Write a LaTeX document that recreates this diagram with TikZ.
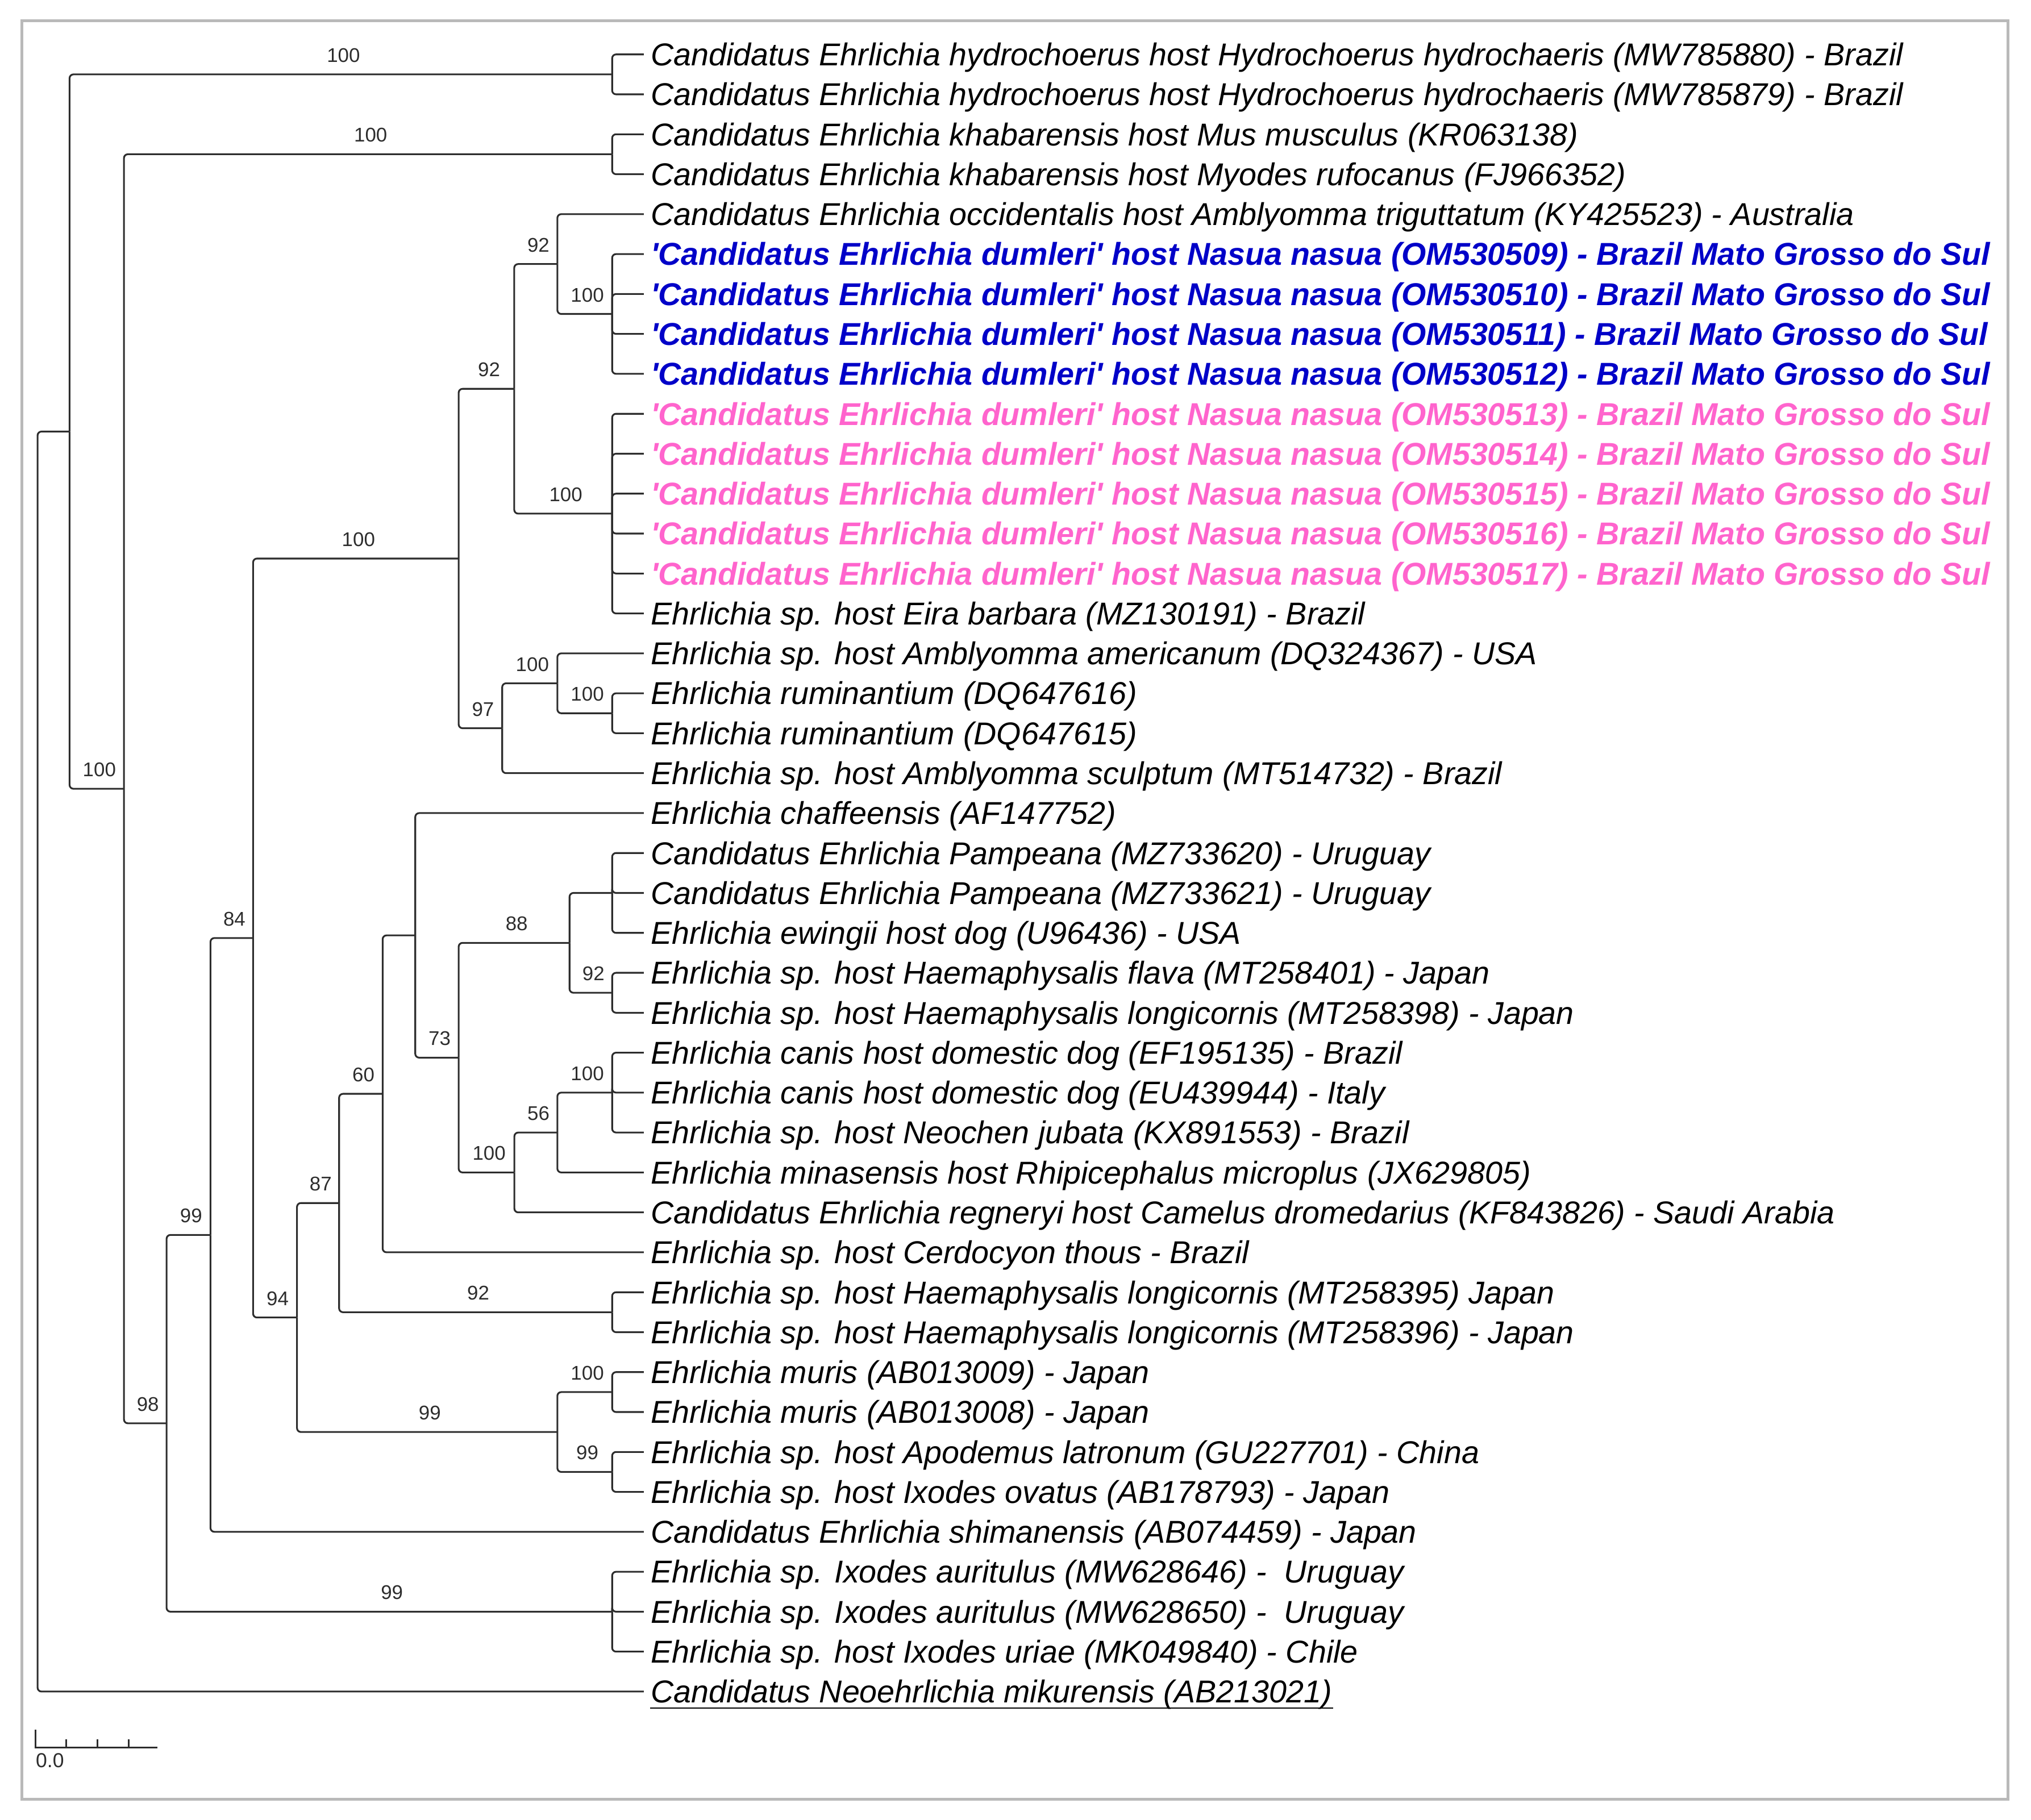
\documentclass[tikz,border=0pt]{standalone}
\usepackage{fontspec}
\setmainfont{Liberation Sans}
\newfontfamily\lsans{Liberation Sans}
\definecolor{treeblue}{RGB}{0,0,200}
\definecolor{treepink}{RGB}{255,100,205}
\definecolor{framegray}{RGB}{185,185,185}
\definecolor{linegray}{RGB}{45,45,45}
\newcommand{\rowy}[1]{42+30.83*(#1)}
\newcommand{\leafnode}[3]{%
  \coordinate (t#1) at (497,{\rowy{#1}});
  \node[#2] (l#1) at (502,{\rowy{#1}+8.7}) {#3};}
\begin{document}
\begin{tikzpicture}[x=0.5pt,y=-0.5pt,
  leaf/.style={anchor=base west,inner sep=0pt,font=\lsans\fontsize{12.2pt}{14pt}\selectfont\itshape},
  leafblue/.style={leaf,text=treeblue,font=\lsans\fontsize{12.2pt}{14pt}\selectfont\bfseries\itshape},
  leafpink/.style={leaf,text=treepink,font=\lsans\fontsize{12.2pt}{14pt}\selectfont\bfseries\itshape},
  br/.style={draw=linegray,line width=0.68pt,rounded corners=1.5pt},
  bs/.style={pos=0.75,anchor=center,inner sep=0pt,xshift=1pt,yshift=7.35pt,text=linegray,font=\lsans\fontsize{7.65pt}{9pt}\selectfont}]
\useasboundingbox (0,0) rectangle (1568,1405.2);
\draw[framegray,line width=1.1pt] (16.8,16.1) rectangle (1550,1389);

% leaves
\leafnode{0}{leaf}{Candidatus Ehrlichia hydrochoerus host Hydrochoerus hydrochaeris (MW785880) - Brazil}
\leafnode{1}{leaf}{Candidatus Ehrlichia hydrochoerus host Hydrochoerus hydrochaeris (MW785879) - Brazil}
\leafnode{2}{leaf}{Candidatus Ehrlichia khabarensis host Mus musculus (KR063138)}
\leafnode{3}{leaf}{Candidatus Ehrlichia khabarensis host Myodes rufocanus (FJ966352)}
\leafnode{4}{leaf}{Candidatus Ehrlichia occidentalis host Amblyomma triguttatum (KY425523) - Australia}
\leafnode{5}{leafblue}{'Candidatus Ehrlichia dumleri' host Nasua nasua (OM530509) - Brazil Mato Grosso do Sul}
\leafnode{6}{leafblue}{'Candidatus Ehrlichia dumleri' host Nasua nasua (OM530510) - Brazil Mato Grosso do Sul}
\leafnode{7}{leafblue}{'Candidatus Ehrlichia dumleri' host Nasua nasua (OM530511) - Brazil Mato Grosso do Sul}
\leafnode{8}{leafblue}{'Candidatus Ehrlichia dumleri' host Nasua nasua (OM530512) - Brazil Mato Grosso do Sul}
\leafnode{9}{leafpink}{'Candidatus Ehrlichia dumleri' host Nasua nasua (OM530513) - Brazil Mato Grosso do Sul}
\leafnode{10}{leafpink}{'Candidatus Ehrlichia dumleri' host Nasua nasua (OM530514) - Brazil Mato Grosso do Sul}
\leafnode{11}{leafpink}{'Candidatus Ehrlichia dumleri' host Nasua nasua (OM530515) - Brazil Mato Grosso do Sul}
\leafnode{12}{leafpink}{'Candidatus Ehrlichia dumleri' host Nasua nasua (OM530516) - Brazil Mato Grosso do Sul}
\leafnode{13}{leafpink}{'Candidatus Ehrlichia dumleri' host Nasua nasua (OM530517) - Brazil Mato Grosso do Sul}
\leafnode{14}{leaf}{Ehrlichia sp. host Eira barbara (MZ130191) - Brazil}
\leafnode{15}{leaf}{Ehrlichia sp. host Amblyomma americanum (DQ324367) - USA}
\leafnode{16}{leaf}{Ehrlichia ruminantium (DQ647616)}
\leafnode{17}{leaf}{Ehrlichia ruminantium (DQ647615)}
\leafnode{18}{leaf}{Ehrlichia sp. host Amblyomma sculptum (MT514732) - Brazil}
\leafnode{19}{leaf}{Ehrlichia chaffeensis (AF147752)}
\leafnode{20}{leaf}{Candidatus Ehrlichia Pampeana (MZ733620) - Uruguay}
\leafnode{21}{leaf}{Candidatus Ehrlichia Pampeana (MZ733621) - Uruguay}
\leafnode{22}{leaf}{Ehrlichia ewingii host dog (U96436) - USA}
\leafnode{23}{leaf}{Ehrlichia sp. host Haemaphysalis flava (MT258401) - Japan}
\leafnode{24}{leaf}{Ehrlichia sp. host Haemaphysalis longicornis (MT258398) - Japan}
\leafnode{25}{leaf}{Ehrlichia canis host domestic dog (EF195135) - Brazil}
\leafnode{26}{leaf}{Ehrlichia canis host domestic dog (EU439944) - Italy}
\leafnode{27}{leaf}{Ehrlichia sp. host Neochen jubata (KX891553) - Brazil}
\leafnode{28}{leaf}{Ehrlichia minasensis host Rhipicephalus microplus (JX629805)}
\leafnode{29}{leaf}{Candidatus Ehrlichia regneryi host Camelus dromedarius (KF843826) - Saudi Arabia}
\leafnode{30}{leaf}{Ehrlichia sp. host Cerdocyon thous - Brazil}
\leafnode{31}{leaf}{Ehrlichia sp. host Haemaphysalis longicornis (MT258395) Japan}
\leafnode{32}{leaf}{Ehrlichia sp. host Haemaphysalis longicornis (MT258396) - Japan}
\leafnode{33}{leaf}{Ehrlichia muris (AB013009) - Japan}
\leafnode{34}{leaf}{Ehrlichia muris (AB013008) - Japan}
\leafnode{35}{leaf}{Ehrlichia sp. host Apodemus latronum (GU227701) - China}
\leafnode{36}{leaf}{Ehrlichia sp. host Ixodes ovatus (AB178793) - Japan}
\leafnode{37}{leaf}{Candidatus Ehrlichia shimanensis (AB074459) - Japan}
\leafnode{38}{leaf}{Ehrlichia sp. Ixodes auritulus (MW628646) -~~Uruguay}
\leafnode{39}{leaf}{Ehrlichia sp. Ixodes auritulus (MW628650) -~~Uruguay}
\leafnode{40}{leaf}{Ehrlichia sp. host Ixodes uriae (MK049840) - Chile}
\leafnode{41}{leaf}{Candidatus Neoehrlichia mikurensis (AB213021)}
\draw[black,line width=0.5pt] ([yshift=-2pt]l41.base west) -- ([yshift=-2pt]l41.base east);

% internal nodes
\coordinate (R)  at (29,{\rowy{25.2227783203125}});
\coordinate (A)  at (53.7,{\rowy{9.445556640625}});
\coordinate (H)  at (472.6,{\rowy{0.5}});
\coordinate (B)  at (95.7,{\rowy{18.39111328125}});
\coordinate (K)  at (472.6,{\rowy{2.5}});
\coordinate (C)  at (128.6,{\rowy{34.2822265625}});
\coordinate (D)  at (162.5,{\rowy{29.564453125}});
\coordinate (Ix) at (472.6,{\rowy{39}});
\coordinate (E)  at (195.4,{\rowy{22.12890625}});
\coordinate (F)  at (354.1,{\rowy{12.625}});
\coordinate (I)  at (397.0,{\rowy{8.375}});
\coordinate (L)  at (430.3,{\rowy{5.25}});
\coordinate (Bl) at (472.6,{\rowy{6.5}});
\coordinate (P)  at (472.6,{\rowy{11.5}});
\coordinate (J)  at (387.7,{\rowy{16.875}});
\coordinate (M)  at (430.3,{\rowy{15.75}});
\coordinate (N)  at (472.6,{\rowy{16.5}});
\coordinate (G)  at (229.3,{\rowy{31.6328125}});
\coordinate (Q)  at (261.8,{\rowy{28.765625}});
\coordinate (T)  at (295.4,{\rowy{26.03125}});
\coordinate (V)  at (320.6,{\rowy{22.0625}});
\coordinate (W)  at (354.1,{\rowy{25.125}});
\coordinate (X)  at (439.7,{\rowy{22.25}});
\coordinate (Pa) at (472.6,{\rowy{21}});
\coordinate (Hf) at (472.6,{\rowy{23.5}});
\coordinate (Y)  at (397.1,{\rowy{28}});
\coordinate (Z)  at (430.3,{\rowy{27}});
\coordinate (Ca) at (472.6,{\rowy{26}});
\coordinate (U)  at (472.6,{\rowy{31.5}});
\coordinate (S)  at (430.3,{\rowy{34.5}});
\coordinate (Mu) at (472.6,{\rowy{33.5}});
\coordinate (Ap) at (472.6,{\rowy{35.5}});

% branches
\draw[br] (R) |- (A);
\draw[br] (R) |- (t41);
\draw[br] (A) |- node[bs]{100} (H);
\draw[br] (A) |- node[bs]{100} (B);
\draw[br] (H) |- (t0);
\draw[br] (H) |- (t1);
\draw[br] (B) |- node[bs]{100} (K);
\draw[br] (B) |- node[bs]{98} (C);
\draw[br] (K) |- (t2);
\draw[br] (K) |- (t3);
\draw[br] (C) |- node[bs]{99} (D);
\draw[br] (C) |- node[bs]{99} (Ix);
\draw[br] (Ix) |- (t38);
\draw[br] (Ix) |- (t39);
\draw[br] (Ix) |- (t40);
\draw[br] (D) |- node[bs]{84} (E);
\draw[br] (D) |- (t37);
\draw[br] (E) |- node[bs]{100} (F);
\draw[br] (E) |- node[bs]{94} (G);
\draw[br] (F) |- node[bs]{92} (I);
\draw[br] (F) |- node[bs]{97} (J);
\draw[br] (I) |- node[bs]{92} (L);
\draw[br] (I) |- node[bs]{100} (P);
\draw[br] (L) |- (t4);
\draw[br] (L) |- node[bs]{100} (Bl);
\foreach \k in {5,6,7,8} {\draw[br] (Bl) |- (t\k);}
\foreach \k in {9,10,11,12,13,14} {\draw[br] (P) |- (t\k);}
\draw[br] (J) |- node[bs]{100} (M);
\draw[br] (J) |- (t18);
\draw[br] (M) |- (t15);
\draw[br] (M) |- node[bs]{100} (N);
\draw[br] (N) |- (t16);
\draw[br] (N) |- (t17);
\draw[br] (G) |- node[bs]{87} (Q);
\draw[br] (G) |- node[bs]{99} (S);
\draw[br] (Q) |- node[bs]{60} (T);
\draw[br] (Q) |- node[bs]{92} (U);
\draw[br] (U) |- (t31);
\draw[br] (U) |- (t32);
\draw[br] (T) |- (V);
\draw[br] (T) |- (t30);
\draw[br] (V) |- (t19);
\draw[br] (V) |- node[bs]{73} (W);
\draw[br] (W) |- node[bs]{88} (X);
\draw[br] (W) |- node[bs]{100} (Y);
\draw[br] (X) |- (Pa);
\draw[br] (X) |- node[bs]{92} (Hf);
\draw[br] (Pa) |- (t20);
\draw[br] (Pa) |- (t21);
\draw[br] (Pa) |- (t22);
\draw[br] (Hf) |- (t23);
\draw[br] (Hf) |- (t24);
\draw[br] (Y) |- node[bs]{56} (Z);
\draw[br] (Y) |- (t29);
\draw[br] (Z) |- node[bs]{100} (Ca);
\draw[br] (Z) |- (t28);
\draw[br] (Ca) |- (t25);
\draw[br] (Ca) |- (t26);
\draw[br] (Ca) |- (t27);
\draw[br] (S) |- node[bs]{100} (Mu);
\draw[br] (S) |- node[bs]{99} (Ap);
\draw[br] (Mu) |- (t33);
\draw[br] (Mu) |- (t34);
\draw[br] (Ap) |- (t35);
\draw[br] (Ap) |- (t36);

% scale bar
\coordinate (sb0) at (27.3,1349.3);
\coordinate (sb1) at (121.4,1349.3);
\draw[br,rounded corners=0pt,line width=0.75pt] (27.3,1335.6) -- (sb0) -- (sb1);
\foreach \xx in {51.2,75.1,99.2} {\draw[br,rounded corners=0pt,line width=0.7pt] (\xx,1342.7) -- (\xx,1349.3);}
\node[anchor=west,inner sep=0pt,text=linegray,font=\lsans\fontsize{7.8pt}{9pt}\selectfont] (sblabel) at (27.3,1359.2) {0.0};
\end{tikzpicture}
\end{document}
